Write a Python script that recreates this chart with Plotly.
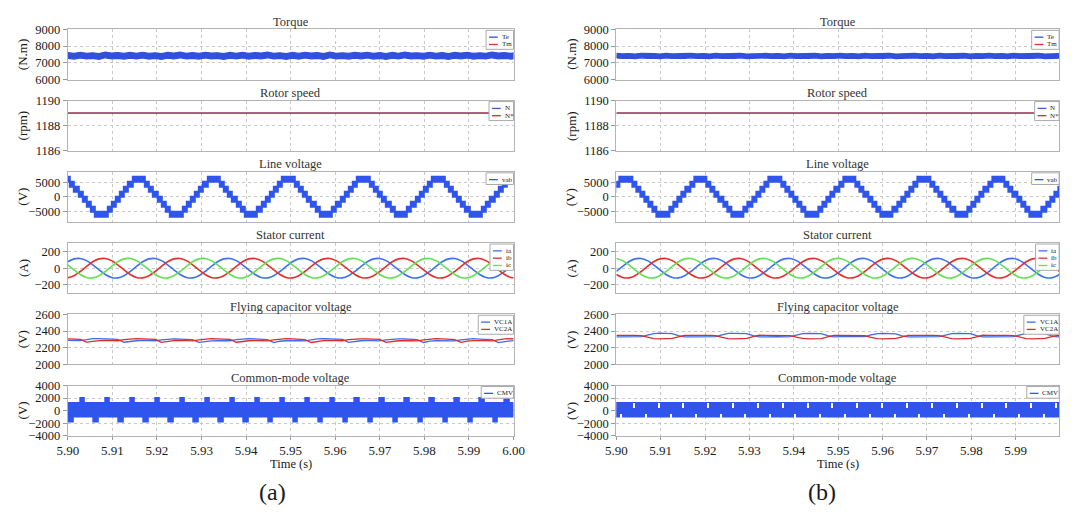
import plotly.graph_objects as go

W, H = 1075, 522

# ---------------- data ----------------
# sampling grid of the plotted waveforms (1.4 ms step)
t_grid = [round(5.9 + 0.0014 * k, 4) for k in range(73)]

# Torque (a): envelope of the dense Te trace, Tm reference
te_a_upper = [7610, 7560, 7630, 7570, 7600, 7550, 7640, 7580, 7610, 7560, 7620, 7570,
              7630, 7560, 7600, 7550, 7620, 7580, 7640, 7570, 7610, 7560, 7630, 7580,
              7600, 7550, 7620, 7570, 7630, 7560, 7610, 7580, 7640, 7570, 7600, 7550,
              7620, 7560, 7630, 7580, 7610, 7550, 7640, 7570, 7600, 7560, 7620, 7580,
              7630, 7560, 7610, 7550, 7620, 7570, 7640, 7580, 7600, 7560, 7630, 7570,
              7610, 7550, 7620, 7580, 7630, 7560, 7600, 7570, 7640, 7580, 7610, 7560, 7630]
te_a_lower = [7270, 7220, 7290, 7230, 7260, 7210, 7300, 7240, 7270, 7220, 7280, 7230,
              7290, 7220, 7260, 7210, 7280, 7240, 7300, 7230, 7270, 7220, 7290, 7240,
              7260, 7210, 7280, 7230, 7290, 7220, 7270, 7240, 7300, 7230, 7260, 7210,
              7280, 7220, 7290, 7240, 7270, 7210, 7300, 7230, 7260, 7220, 7280, 7240,
              7290, 7220, 7270, 7210, 7280, 7230, 7300, 7240, 7260, 7220, 7290, 7230,
              7270, 7210, 7280, 7240, 7290, 7220, 7260, 7230, 7300, 7240, 7270, 7220, 7290]
# Torque (b)
te_b_upper = [7560, 7530, 7555, 7525, 7565, 7535, 7550, 7525, 7560, 7530, 7555, 7535,
              7565, 7530, 7550, 7525, 7560, 7535, 7555, 7530, 7565, 7525, 7550, 7535,
              7560, 7530, 7555, 7525, 7565, 7535, 7550, 7530, 7560, 7525, 7555, 7535,
              7565, 7530, 7550, 7525, 7560, 7535, 7555, 7530, 7565, 7525, 7550, 7535,
              7560, 7530, 7555, 7525, 7565, 7535, 7550, 7530, 7560, 7525, 7555, 7535,
              7565, 7530, 7550, 7525, 7560, 7535, 7555, 7530, 7565, 7525, 7550, 7535, 7560]
te_b_lower = [7290, 7260, 7285, 7255, 7295, 7265, 7280, 7255, 7290, 7260, 7285, 7265,
              7295, 7260, 7280, 7255, 7290, 7265, 7285, 7260, 7295, 7255, 7280, 7265,
              7290, 7260, 7285, 7255, 7295, 7265, 7280, 7260, 7290, 7255, 7285, 7265,
              7295, 7260, 7280, 7255, 7290, 7265, 7285, 7260, 7295, 7255, 7280, 7265,
              7290, 7260, 7285, 7255, 7295, 7265, 7280, 7260, 7290, 7255, 7285, 7265,
              7295, 7260, 7280, 7255, 7290, 7265, 7285, 7260, 7295, 7255, 7280, 7265, 7290]
tm_t = [5.90, 6.00]
tm_a = [7400, 7400]
tm_b = [7400, 7400]

# Rotor speed
speed_t = [5.90, 6.00]
n_a = [1189.02, 1189.02]
nref_a = [1189.0, 1189.0]
n_b = [1189.02, 1189.02]
nref_b = [1189.0, 1189.0]

# Line voltage: 9-level staircase (PWM bands between adjacent levels)
vab_levels = [-6900, -5175, -3450, -1725, 0, 1725, 3450, 5175, 6900]
vab_edges_ms = [-1.4, 1.4, 2.33, 3.27, 4.2, 5.13, 6.07, 7.0, 9.8, 10.73, 11.67, 12.6, 13.53, 14.47, 15.4]
vab_bands = [7, 6, 5, 4, 3, 2, 1, 0, 1, 2, 3, 4, 5, 6]
vab_peaks_a = [5.8991, 5.9159, 5.9327, 5.9495, 5.9663, 5.9831, 5.9999]
vab_peaks_b = [5.8853, 5.9021, 5.9189, 5.9357, 5.9525, 5.9693, 5.9861]

# Stator currents (A)
ia_a = [76, 111, 116, 90, 40, -20, -76, -111, -116, -90, -40, 20,
        76, 111, 116, 90, 40, -20, -76, -111, -116, -90, -40, 20,
        76, 111, 116, 90, 40, -20, -76, -111, -116, -90, -40, 20,
        76, 111, 116, 90, 40, -20, -76, -111, -116, -90, -40, 20,
        76, 111, 116, 90, 40, -20, -76, -111, -116, -90, -40, 20,
        76, 111, 116, 90, 40, -20, -76, -111, -116, -90, -40, 20, 76]
ib_a = [-116, -90, -40, 20, 76, 111, 116, 90, 40, -20, -76, -111,
        -116, -90, -40, 20, 76, 111, 116, 90, 40, -20, -76, -111,
        -116, -90, -40, 20, 76, 111, 116, 90, 40, -20, -76, -111,
        -116, -90, -40, 20, 76, 111, 116, 90, 40, -20, -76, -111,
        -116, -90, -40, 20, 76, 111, 116, 90, 40, -20, -76, -111,
        -116, -90, -40, 20, 76, 111, 116, 90, 40, -20, -76, -111, -116]
ic_a = [40, -20, -76, -111, -116, -90, -40, 20, 76, 111, 116, 90,
        40, -20, -76, -111, -116, -90, -40, 20, 76, 111, 116, 90,
        40, -20, -76, -111, -116, -90, -40, 20, 76, 111, 116, 90,
        40, -20, -76, -111, -116, -90, -40, 20, 76, 111, 116, 90,
        40, -20, -76, -111, -116, -90, -40, 20, 76, 111, 116, 90,
        40, -20, -76, -111, -116, -90, -40, 20, 76, 111, 116, 90, 40]
ia_b = [-40, 20, 76, 111, 116, 90, 40, -20, -76, -111, -116, -90,
        -40, 20, 76, 111, 116, 90, 40, -20, -76, -111, -116, -90,
        -40, 20, 76, 111, 116, 90, 40, -20, -76, -111, -116, -90,
        -40, 20, 76, 111, 116, 90, 40, -20, -76, -111, -116, -90,
        -40, 20, 76, 111, 116, 90, 40, -20, -76, -111, -116, -90,
        -40, 20, 76, 111, 116, 90, 40, -20, -76, -111, -116, -90, -40]
ib_b = [-76, -111, -116, -90, -40, 20, 76, 111, 116, 90, 40, -20,
        -76, -111, -116, -90, -40, 20, 76, 111, 116, 90, 40, -20,
        -76, -111, -116, -90, -40, 20, 76, 111, 116, 90, 40, -20,
        -76, -111, -116, -90, -40, 20, 76, 111, 116, 90, 40, -20,
        -76, -111, -116, -90, -40, 20, 76, 111, 116, 90, 40, -20,
        -76, -111, -116, -90, -40, 20, 76, 111, 116, 90, 40, -20, -76]
ic_b = [116, 90, 40, -20, -76, -111, -116, -90, -40, 20, 76, 111,
        116, 90, 40, -20, -76, -111, -116, -90, -40, 20, 76, 111,
        116, 90, 40, -20, -76, -111, -116, -90, -40, 20, 76, 111,
        116, 90, 40, -20, -76, -111, -116, -90, -40, 20, 76, 111,
        116, 90, 40, -20, -76, -111, -116, -90, -40, 20, 76, 111,
        116, 90, 40, -20, -76, -111, -116, -90, -40, 20, 76, 111, 116]

# Flying capacitor voltages (V)
vc1_a = [2288, 2284, 2286, 2296, 2308, 2310, 2306, 2304, 2300, 2266, 2278, 2284,
         2288, 2286, 2284, 2294, 2304, 2306, 2304, 2302, 2298, 2264, 2276, 2282,
         2286, 2288, 2284, 2296, 2306, 2308, 2305, 2300, 2298, 2262, 2278, 2284,
         2287, 2285, 2283, 2295, 2305, 2309, 2306, 2302, 2299, 2265, 2277, 2284,
         2288, 2286, 2283, 2294, 2304, 2307, 2305, 2301, 2297, 2263, 2279, 2285,
         2287, 2284, 2282, 2295, 2306, 2308, 2304, 2300, 2298, 2262, 2276, 2283, 2288]
vc2_a = [2306, 2304, 2300, 2268, 2280, 2286, 2288, 2286, 2284, 2296, 2306, 2308,
         2306, 2303, 2300, 2264, 2278, 2285, 2288, 2286, 2283, 2294, 2305, 2309,
         2306, 2302, 2299, 2266, 2279, 2284, 2287, 2285, 2283, 2295, 2306, 2308,
         2305, 2301, 2298, 2263, 2277, 2285, 2288, 2286, 2284, 2296, 2305, 2307,
         2305, 2302, 2299, 2265, 2278, 2284, 2287, 2285, 2282, 2294, 2306, 2309,
         2306, 2302, 2298, 2264, 2280, 2286, 2288, 2285, 2283, 2295, 2306, 2308, 2305]
vc1_b = [2330, 2332, 2334, 2331, 2333, 2352, 2370, 2374, 2372, 2369, 2345, 2330,
         2331, 2333, 2335, 2332, 2334, 2354, 2371, 2373, 2371, 2368, 2344, 2331,
         2330, 2334, 2333, 2331, 2332, 2351, 2369, 2372, 2373, 2370, 2346, 2330,
         2332, 2333, 2334, 2330, 2333, 2353, 2370, 2373, 2371, 2367, 2343, 2331,
         2331, 2332, 2335, 2332, 2334, 2352, 2368, 2372, 2370, 2368, 2345, 2330,
         2330, 2333, 2334, 2331, 2333, 2354, 2371, 2374, 2372, 2369, 2346, 2331, 2332]
vc2_b = [2348, 2350, 2346, 2349, 2345, 2326, 2310, 2306, 2308, 2311, 2330, 2349,
         2347, 2351, 2347, 2348, 2344, 2324, 2309, 2307, 2309, 2312, 2332, 2350,
         2349, 2350, 2345, 2348, 2346, 2327, 2311, 2306, 2307, 2310, 2329, 2348,
         2348, 2349, 2347, 2349, 2345, 2325, 2310, 2307, 2308, 2312, 2331, 2349,
         2347, 2350, 2346, 2348, 2344, 2326, 2309, 2306, 2309, 2311, 2330, 2350,
         2349, 2351, 2346, 2349, 2345, 2324, 2310, 2307, 2308, 2311, 2331, 2348, 2347]

# Common-mode voltage (V)
cmv_span = [5.90, 6.00]
cmv_level = 1150
cmv_spike_level = 1900
cmv_spike_ms = 1.0
cmv_a_top_spikes = [5.9034, 5.9090, 5.9146, 5.9202, 5.9258, 5.9314, 5.9370, 5.9426, 5.9482,
                    5.9538, 5.9594, 5.9650, 5.9706, 5.9762, 5.9818, 5.9874, 5.9930, 5.9986]
cmv_a_bot_spikes = [5.9008, 5.9064, 5.9120, 5.9176, 5.9232, 5.9288, 5.9344, 5.9400, 5.9456,
                    5.9512, 5.9568, 5.9624, 5.9680, 5.9736, 5.9792, 5.9848, 5.9904, 5.9960]
cmv_notch_level = 450
cmv_notch_ms = 0.25
cmv_b_top_notches = [5.9040, 5.9096, 5.9152, 5.9208, 5.9264, 5.9320, 5.9376, 5.9432, 5.9488,
                     5.9544, 5.9600, 5.9656, 5.9712, 5.9768, 5.9824, 5.9880, 5.9936, 5.9992]
cmv_b_bot_notches = [5.9012, 5.9068, 5.9124, 5.9180, 5.9236, 5.9292, 5.9348, 5.9404, 5.9460,
                     5.9516, 5.9572, 5.9628, 5.9684, 5.9740, 5.9796, 5.9852, 5.9908, 5.9964]

row_titles = ['Torque', 'Rotor speed', 'Line voltage', 'Stator current',
              'Flying capacitor voltage', 'Common-mode voltage']
row_units = ['(N.m)', '(rpm)', '(V)', '(A)', '(V)', '(V)']
row_ranges = [[6000, 9000], [1186, 1190], [-8625, 8625], [-300, 300], [2000, 2600], [-4000, 4000]]
row_ticks = [[6000, 7000, 8000, 9000], [1186, 1188, 1190], [-5000, 0, 5000], [-200, 0, 200],
             [2000, 2200, 2400, 2600], [-4000, -2000, 0, 2000, 4000]]
x_ticks = [[5.90, 5.91, 5.92, 5.93, 5.94, 5.95, 5.96, 5.97, 5.98, 5.99, 6.00],
           [5.90, 5.91, 5.92, 5.93, 5.94, 5.95, 5.96, 5.97, 5.98, 5.99]]
x_ranges = [[5.90, 6.00], [5.90, 5.9998]]
panel_labels = ['(a)', '(b)']

# ---------------- styles / layout ----------------
FONT = 'Liberation Serif, Times New Roman, Times, serif'
BLUE = '#2f55ec'
BLUE_T = '#3150dc'
BLUE_I = '#3f72f0'
RED = '#e3302c'
GREEN = '#62df55'
COL_PX = [(58, 513), (618, 1070)]
ROW_TOP = [23, 96.2, 169.4, 242.6, 315.8, 389.0]
ROW_H = 51.5
LEG_W = [28, 25, 28, 24, 36, 33]


def PX(p):
    return p / W


def PY(p):
    return 1 - p / H


def ids(r, c):
    n = r * 2 + c + 1
    s = '' if n == 1 else str(n)
    return 'x' + s, 'y' + s, s


fig = go.Figure()


def add_line(r, c, x, y, color, width, shape='linear'):
    xa, ya, _ = ids(r, c)
    fig.add_trace(go.Scatter(x=x, y=y, mode='lines', xaxis=xa, yaxis=ya, hoverinfo='skip',
                             line=dict(color=color, width=width, shape=shape,
                                       smoothing=1.0 if shape == 'spline' else None)))


def add_band(r, c, x, upper, lower, color):
    xa, ya, _ = ids(r, c)
    fig.add_trace(go.Scatter(x=list(x) + list(x)[::-1], y=list(upper) + list(lower)[::-1],
                             mode='lines', fill='toself', fillcolor=color,
                             line=dict(color=color, width=1.2), xaxis=xa, yaxis=ya, hoverinfo='skip'))


def add_blocks(r, c, x0, x1, lo, hi, color, lw=0.0):
    xa, ya, _ = ids(r, c)
    fig.add_trace(go.Bar(x=[(a + b) / 2 for a, b in zip(x0, x1)],
                         width=[b - a for a, b in zip(x0, x1)],
                         base=lo, y=[h - l for l, h in zip(lo, hi)],
                         marker=dict(color=color, line=dict(color=color, width=lw)),
                         xaxis=xa, yaxis=ya, hoverinfo='skip'))


def vab_blocks(peaks):
    x0, x1, lo, hi = [], [], [], []
    for p in peaks:
        for j, b in enumerate(vab_bands):
            x0.append(p + vab_edges_ms[j] / 1000.0)
            x1.append(p + vab_edges_ms[j + 1] / 1000.0)
            lo.append(vab_levels[b])
            hi.append(vab_levels[b + 1])
    return x0, x1, lo, hi


def spikes(times, dur_ms, lo, hi):
    h = dur_ms / 2000.0
    return [t - h for t in times], [t + h for t in times], [lo] * len(times), [hi] * len(times)


for c, (upper, lower, tm, nn, nr, peaks, ia, ib, ic, v1, v2) in enumerate([
        (te_a_upper, te_a_lower, tm_a, n_a, nref_a, vab_peaks_a, ia_a, ib_a, ic_a, vc1_a, vc2_a),
        (te_b_upper, te_b_lower, tm_b, n_b, nref_b, vab_peaks_b, ia_b, ib_b, ic_b, vc1_b, vc2_b)]):
    # torque
    add_line(0, c, tm_t, tm, RED, 1.2)
    add_band(0, c, t_grid, upper, lower, BLUE_T)
    # speed
    add_line(1, c, speed_t, nn, '#3a5ed8', 1.0)
    add_line(1, c, speed_t, nr, '#d8262c', 1.4)
    # line voltage
    add_blocks(2, c, *vab_blocks(peaks), BLUE, lw=2.0)
    # currents
    add_line(3, c, t_grid, ia, BLUE_I, 1.6, 'spline')
    add_line(3, c, t_grid, ib, RED, 1.6, 'spline')
    add_line(3, c, t_grid, ic, GREEN, 1.6, 'spline')
    # flying capacitor
    add_line(4, c, t_grid, v1, '#3d6cf0', 1.3)
    add_line(4, c, t_grid, v2, '#e02a2a', 1.3)
    # CMV
    add_blocks(5, c, [cmv_span[0]], [cmv_span[1]], [-cmv_level], [cmv_level], BLUE, lw=1.5)
    if c == 0:
        add_blocks(5, c, *spikes(cmv_a_top_spikes, cmv_spike_ms, cmv_level, cmv_spike_level), BLUE, lw=1.5)
        add_blocks(5, c, *spikes(cmv_a_bot_spikes, cmv_spike_ms, -cmv_spike_level, -cmv_level), BLUE, lw=1.5)
    else:
        add_blocks(5, c, *spikes(cmv_b_top_notches, cmv_notch_ms, cmv_notch_level, cmv_level + 150), 'white')
        add_blocks(5, c, *spikes(cmv_b_bot_notches, cmv_notch_ms, -cmv_level - 150, -cmv_notch_level), 'white')

legend_entries = [
    [('Te', BLUE_T), ('Tm', RED)],
    [('N', '#3a5ed8'), ('N*', '#d8262c')],
    [('vab', BLUE)],
    [('ia', BLUE_I), ('ib', RED), ('ic', GREEN)],
    [('VC1A', '#3d6cf0'), ('VC2A', '#e02a2a')],
    [('CMV', BLUE)],
]

layout = dict(width=W, height=H, margin=dict(l=0, r=0, t=0, b=0), autosize=False,
              paper_bgcolor='white', plot_bgcolor='white', showlegend=False,
              barmode='overlay', bargap=0, font=dict(family=FONT, color='#1a1a1a'))
shapes, annots = [], []
for r in range(6):
    for c in range(2):
        xa, ya, s = ids(r, c)
        x0p, x1p = COL_PX[c]
        top = ROW_TOP[r]
        bot = top + ROW_H
        layout['xaxis' + s] = dict(
            domain=[PX(x0p), PX(x1p)], anchor=ya, range=x_ranges[c],
            tickvals=x_ticks[c], ticktext=['%.2f' % v for v in x_ticks[c]],
            showticklabels=(r == 5), ticks='outside' if r == 5 else '', ticklen=3,
            tickcolor='#999', tickfont=dict(family=FONT, size=13, color='#1a1a1a'),
            showgrid=True, gridcolor='#c8c8c8', griddash='dot', gridwidth=1,
            showline=True, mirror=True, linecolor='#b4b4b4', linewidth=1, zeroline=False,
            fixedrange=True)
        layout['yaxis' + s] = dict(
            domain=[PY(bot), PY(top)], anchor=xa, range=row_ranges[r], tickvals=row_ticks[r],
            ticks='outside', ticklen=4, tickcolor='#999',
            tickfont=dict(family=FONT, size=12.5, color='#1a1a1a'),
            showgrid=True, gridcolor='#c8c8c8', griddash='dot', gridwidth=1,
            showline=True, mirror=True, linecolor='#b4b4b4', linewidth=1, zeroline=False,
            fixedrange=True)
        # title
        annots.append(dict(text=row_titles[r], x=PX((x0p + x1p) / 2), y=PY(top - 8), xref='paper',
                           yref='paper', showarrow=False, xanchor='center', yanchor='middle',
                           font=dict(family=FONT, size=12.5, color='#333')))
        # y unit
        annots.append(dict(text=row_units[r], x=PX(x0p - 46), y=PY(top + ROW_H / 2), xref='paper',
                           yref='paper', showarrow=False, textangle=-90, xanchor='center',
                           yanchor='middle', font=dict(family=FONT, size=13, color='#1a1a1a')))
        # legend box
        ent = legend_entries[r]
        bw = LEG_W[r]
        bx1 = x1p
        bx0 = bx1 - bw
        by0 = top + 1
        by1 = by0 + 7.5 * len(ent) + 4.5
        shapes.append(dict(type='rect', xref='paper', yref='paper', x0=PX(bx0), x1=PX(bx1),
                           y0=PY(by1), y1=PY(by0), fillcolor='white',
                           line=dict(color='#aaaaaa', width=1)))
        for i, (nm, col) in enumerate(ent):
            yy = by0 + 7.5 * (i + 1) - 0.5
            shapes.append(dict(type='line', xref='paper', yref='paper', x0=PX(bx0 + 3), x1=PX(bx0 + 12),
                               y0=PY(yy), y1=PY(yy), line=dict(color=col, width=1.3)))
            annots.append(dict(text=nm, x=PX(bx0 + 14), y=PY(yy), xref='paper', yref='paper',
                               showarrow=False, xanchor='left', yanchor='middle',
                               font=dict(family=FONT, size=7, color='#222')))

for c in range(2):
    x0p, x1p = COL_PX[c]
    annots.append(dict(text='Time (s)', x=PX((x0p + x1p) / 2), y=PY(470), xref='paper', yref='paper',
                       showarrow=False, xanchor='center', yanchor='middle',
                       font=dict(family=FONT, size=12.5, color='#1a1a1a')))
    annots.append(dict(text=panel_labels[c], x=PX(x0p + 209 if c == 0 else x0p + 210), y=PY(498),
                       xref='paper', yref='paper', showarrow=False, xanchor='center',
                       yanchor='middle', font=dict(family=FONT, size=24, color='#1a1a1a')))

layout['shapes'] = shapes
layout['annotations'] = annots
fig.update_layout(**layout)
fig.write_html('out.html')
